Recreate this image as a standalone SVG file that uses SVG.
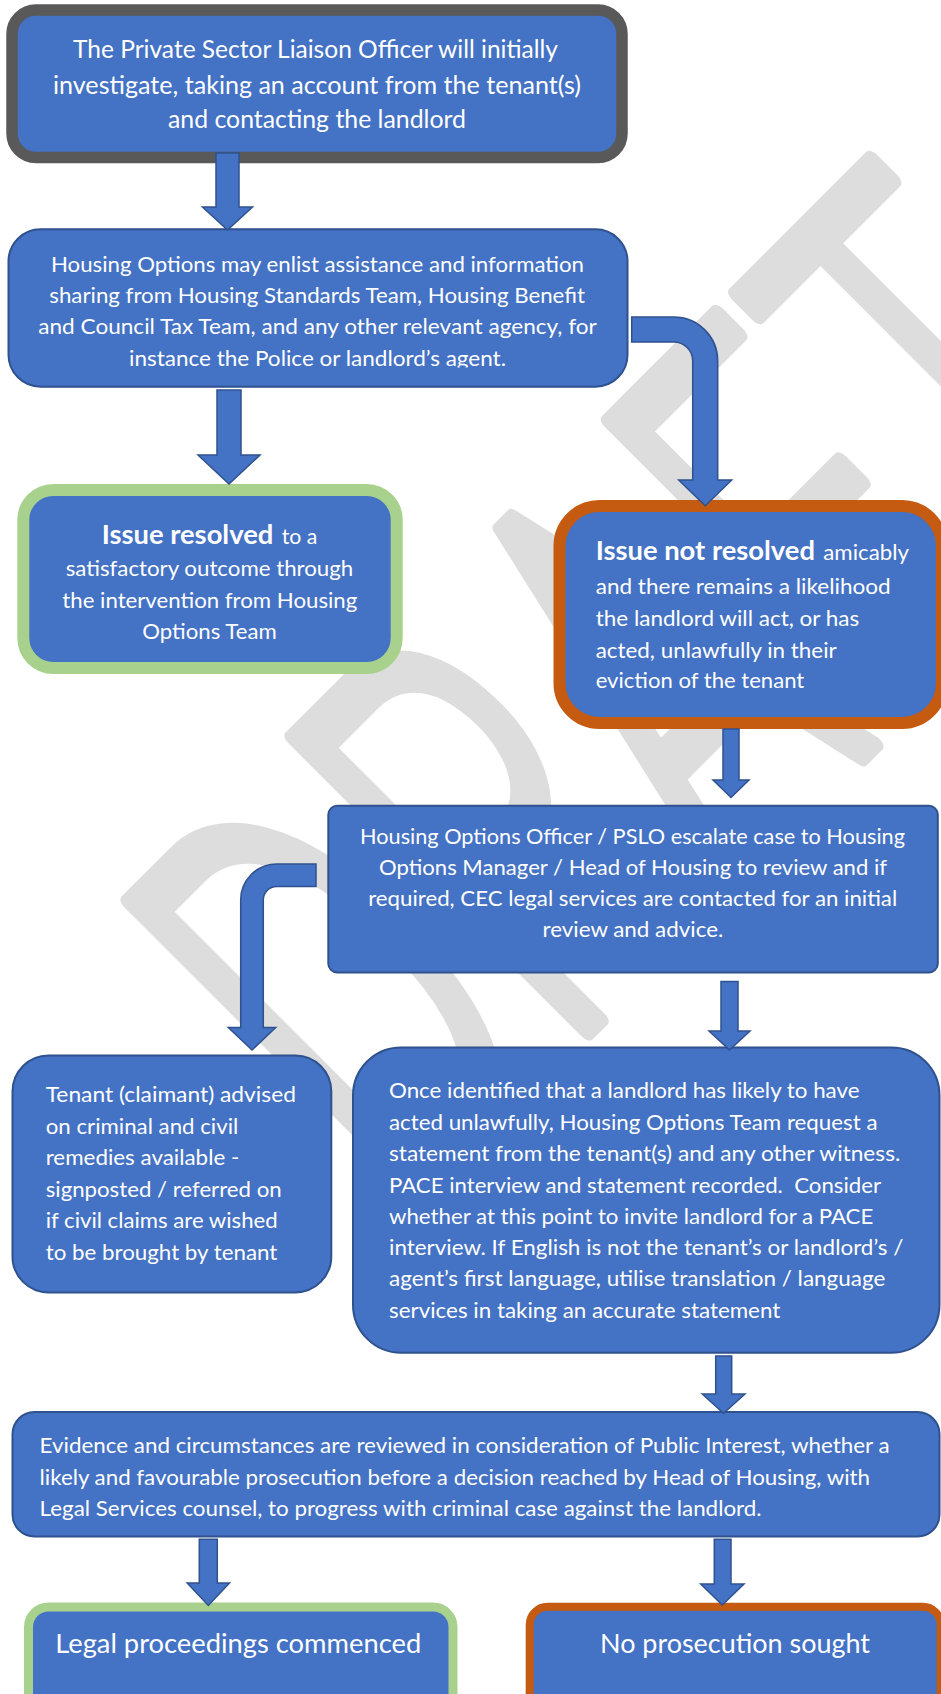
<svg xmlns="http://www.w3.org/2000/svg" width="941" height="1694" viewBox="0 0 941 1694">
<style>
.box{fill:#4472c4;stroke:#2f528f;stroke-width:2}
.t{font-family:Lato,'Open Sans',sans-serif;fill:#ffffff;font-size:22px}
.b{font-weight:bold;font-size:27px}
.arr{fill:#4472c4;stroke:#2f528f;stroke-width:1.5}
.wm{font-family:Roboto,'Liberation Sans',sans-serif;font-weight:300;fill:#dddddd;stroke:#dddddd;stroke-width:15;stroke-linejoin:round;font-size:356px}
</style>
<defs>
<clipPath id="c2"><rect x="0" y="229" width="941" height="138.5"/></clipPath>
</defs>
<rect width="941" height="1694" fill="#ffffff"/>
<g id="watermark">
<text class="wm" vector-effect="non-scaling-stroke" transform="translate(399.5,1219.8) rotate(-45) scale(1,1.644)" textLength="1094" lengthAdjust="spacingAndGlyphs">DRAFT</text>
</g>
<g id="n1">
<rect class="box" x="12" y="10" width="610" height="147.5" rx="24" style="stroke:#595959;stroke-width:11.5"/>
<text class="t" style="font-size:25px" x="73" y="58.3" textLength="485" lengthAdjust="spacingAndGlyphs">The Private Sector Liaison Officer will initially</text>
<text class="t" style="font-size:25px" x="53" y="93.5" textLength="528" lengthAdjust="spacingAndGlyphs">investigate, taking an account from the tenant(s)</text>
<text class="t" style="font-size:25px" x="168" y="128.3" textLength="298" lengthAdjust="spacingAndGlyphs">and contacting the landlord</text>
</g>
<g id="n2">
<rect class="box" x="8.5" y="229.3" width="619" height="157.4" rx="32"/>
<g clip-path="url(#c2)">
<text class="t" style="font-size:21.5px" x="51" y="272" textLength="533" lengthAdjust="spacingAndGlyphs">Housing Options may enlist assistance and information</text>
<text class="t" style="font-size:21.5px" x="49.3" y="303" textLength="535.7" lengthAdjust="spacingAndGlyphs">sharing from Housing Standards Team, Housing Benefit</text>
<text class="t" style="font-size:21.5px" x="38.3" y="334.2" textLength="558.5" lengthAdjust="spacingAndGlyphs">and Council Tax Team, and any other relevant agency, for</text>
<text class="t" style="font-size:21.5px" x="129" y="365.5" textLength="377" lengthAdjust="spacingAndGlyphs">instance the Police or landlord’s agent.</text>
</g>
</g>
<g id="n3">
<rect class="box" x="23.3" y="490" width="373.4" height="178" rx="30" style="stroke:#a9d18e;stroke-width:12"/>
<text class="t b" x="101.7" y="543.6" textLength="171.6" lengthAdjust="spacingAndGlyphs">Issue resolved</text>
<text class="t" x="281.7" y="543.6" textLength="35.6" lengthAdjust="spacingAndGlyphs">to a</text>
<text class="t" x="65.7" y="576.4" textLength="287.6" lengthAdjust="spacingAndGlyphs">satisfactory outcome through</text>
<text class="t" x="62.3" y="607.9" textLength="295" lengthAdjust="spacingAndGlyphs">the intervention from Housing</text>
<text class="t" x="142.3" y="639" textLength="134.4" lengthAdjust="spacingAndGlyphs">Options Team</text>
</g>
<g id="n4">
<rect class="box" x="559.5" y="506" width="382.5" height="217" rx="40" style="stroke:#c55a11;stroke-width:12"/>
<text class="t b" x="595.7" y="560" textLength="219.3" lengthAdjust="spacingAndGlyphs">Issue not resolved</text>
<text class="t" x="823.3" y="560" textLength="85.7" lengthAdjust="spacingAndGlyphs">amicably</text>
<text class="t" x="595.7" y="593.7" textLength="295" lengthAdjust="spacingAndGlyphs">and there remains a likelihood</text>
<text class="t" x="595.7" y="626.2" textLength="263.6" lengthAdjust="spacingAndGlyphs">the landlord will act, or has</text>
<text class="t" x="595.7" y="657.5" textLength="241" lengthAdjust="spacingAndGlyphs">acted, unlawfully in their</text>
<text class="t" x="595.7" y="688.3" textLength="208.6" lengthAdjust="spacingAndGlyphs">eviction of the tenant</text>
</g>
<g id="n5">
<rect class="box" x="328.3" y="805.7" width="609.5" height="166.8" rx="9"/>
<text class="t" x="360" y="843.8" textLength="545" lengthAdjust="spacingAndGlyphs">Housing Options Officer / PSLO escalate case to Housing</text>
<text class="t" x="379" y="875" textLength="508" lengthAdjust="spacingAndGlyphs">Options Manager / Head of Housing to review and if</text>
<text class="t" x="368.2" y="906.3" textLength="529" lengthAdjust="spacingAndGlyphs">required, CEC legal services are contacted for an initial</text>
<text class="t" x="542.5" y="936.8" textLength="180.8" lengthAdjust="spacingAndGlyphs">review and advice.</text>
</g>
<g id="n6">
<rect class="box" x="12.5" y="1055.4" width="318.8" height="237" rx="36"/>
<text class="t" x="45.7" y="1102.3" textLength="250.3" lengthAdjust="spacingAndGlyphs">Tenant (claimant) advised</text>
<text class="t" x="45.7" y="1134" textLength="192.6" lengthAdjust="spacingAndGlyphs">on criminal and civil</text>
<text class="t" x="45.7" y="1165.3" textLength="193.6" lengthAdjust="spacingAndGlyphs">remedies available -</text>
<text class="t" x="45.7" y="1196.8" textLength="236" lengthAdjust="spacingAndGlyphs">signposted / referred on</text>
<text class="t" x="45.7" y="1228.3" textLength="232" lengthAdjust="spacingAndGlyphs">if civil claims are wished</text>
<text class="t" x="45.7" y="1260" textLength="231.6" lengthAdjust="spacingAndGlyphs">to be brought by tenant</text>
</g>
<g id="n7">
<rect class="box" x="353" y="1047.5" width="586.5" height="305.2" rx="48"/>
<text class="t" x="389" y="1098.3" textLength="470.5" lengthAdjust="spacingAndGlyphs">Once identified that a landlord has likely to have</text>
<text class="t" x="389" y="1129.5" textLength="488.5" lengthAdjust="spacingAndGlyphs">acted unlawfully, Housing Options Team request a</text>
<text class="t" x="389" y="1160.8" textLength="511.3" lengthAdjust="spacingAndGlyphs">statement from the tenant(s) and any other witness.</text>
<text class="t" x="389" y="1192.5" textLength="492" lengthAdjust="spacingAndGlyphs">PACE interview and statement recorded.&#160; Consider</text>
<text class="t" x="389" y="1223.6" textLength="484.3" lengthAdjust="spacingAndGlyphs">whether at this point to invite landlord for a PACE</text>
<text class="t" x="389" y="1255" textLength="514.3" lengthAdjust="spacingAndGlyphs">interview. If English is not the tenant’s or landlord’s /</text>
<text class="t" x="389" y="1286.2" textLength="496.3" lengthAdjust="spacingAndGlyphs">agent’s first language, utilise translation / language</text>
<text class="t" x="389" y="1317.8" textLength="391.3" lengthAdjust="spacingAndGlyphs">services in taking an accurate statement</text>
</g>
<g id="n8">
<rect class="box" x="12.5" y="1412" width="927" height="124.5" rx="22"/>
<text class="t" x="39.6" y="1452.7" textLength="850" lengthAdjust="spacingAndGlyphs">Evidence and circumstances are reviewed in consideration of Public Interest, whether a</text>
<text class="t" x="39.6" y="1484.7" textLength="830.4" lengthAdjust="spacingAndGlyphs">likely and favourable prosecution before a decision reached by Head of Housing, with</text>
<text class="t" x="39.6" y="1515.7" textLength="722" lengthAdjust="spacingAndGlyphs">Legal Services counsel, to progress with criminal case against the landlord.</text>
</g>
<g id="n9">
<rect class="box" x="28.5" y="1607" width="424.5" height="130" rx="20" style="stroke:#a9d18e;stroke-width:9"/>
<text class="t" style="font-size:26.5px" x="55.2" y="1652.8" textLength="366" lengthAdjust="spacingAndGlyphs">Legal proceedings commenced</text>
</g>
<g id="n10">
<rect class="box" x="529.7" y="1606.7" width="411" height="130" rx="18" style="stroke:#c55a11;stroke-width:8"/>
<text class="t" style="font-size:26.5px" x="600" y="1653.3" textLength="270" lengthAdjust="spacingAndGlyphs">No prosecution sought</text>
</g>
<g id="connectors">
<path class="arr" d="M216,153 H239 V207 H252.5 L227.5,230 L202.5,207 H216 Z"/>
<path class="arr" d="M217,390 H241 V455 H260 L229,484 L198,455 H217 Z"/>
<path class="arr" d="M631.7,317 H673.7 A44,44 0 0 1 717.7,361 V480 H731.7 L705.2,505.7 L678.7,480 H692.7 V361 A19,19 0 0 0 673.7,342 H631.7 Z"/>
<path class="arr" d="M723,729 H739 V780 H749 L731,797.5 L713,780 H723 Z"/>
<path class="arr" d="M316,864 H276.7 A36,36 0 0 0 240.7,900 V1027.5 H228.3 L252,1050 L275.7,1027.5 H263.3 V900 A13.4,13.4 0 0 1 276.7,886.4 H316 Z"/>
<path class="arr" d="M721,981.5 H738 V1031 H750 L729.5,1050 L709,1031 H721 Z"/>
<path class="arr" d="M715.7,1356 H731.7 V1394 H745 L723.5,1413.3 L702.3,1394 H715.7 Z"/>
<path class="arr" d="M199.3,1539.3 H217.3 V1583 H229.5 L208.3,1605.5 L187.2,1583 H199.3 Z"/>
<path class="arr" d="M714.3,1539.3 H731 V1584 H744 L722.3,1605 L700.7,1584 H714.3 Z"/>
</g>
</svg>
